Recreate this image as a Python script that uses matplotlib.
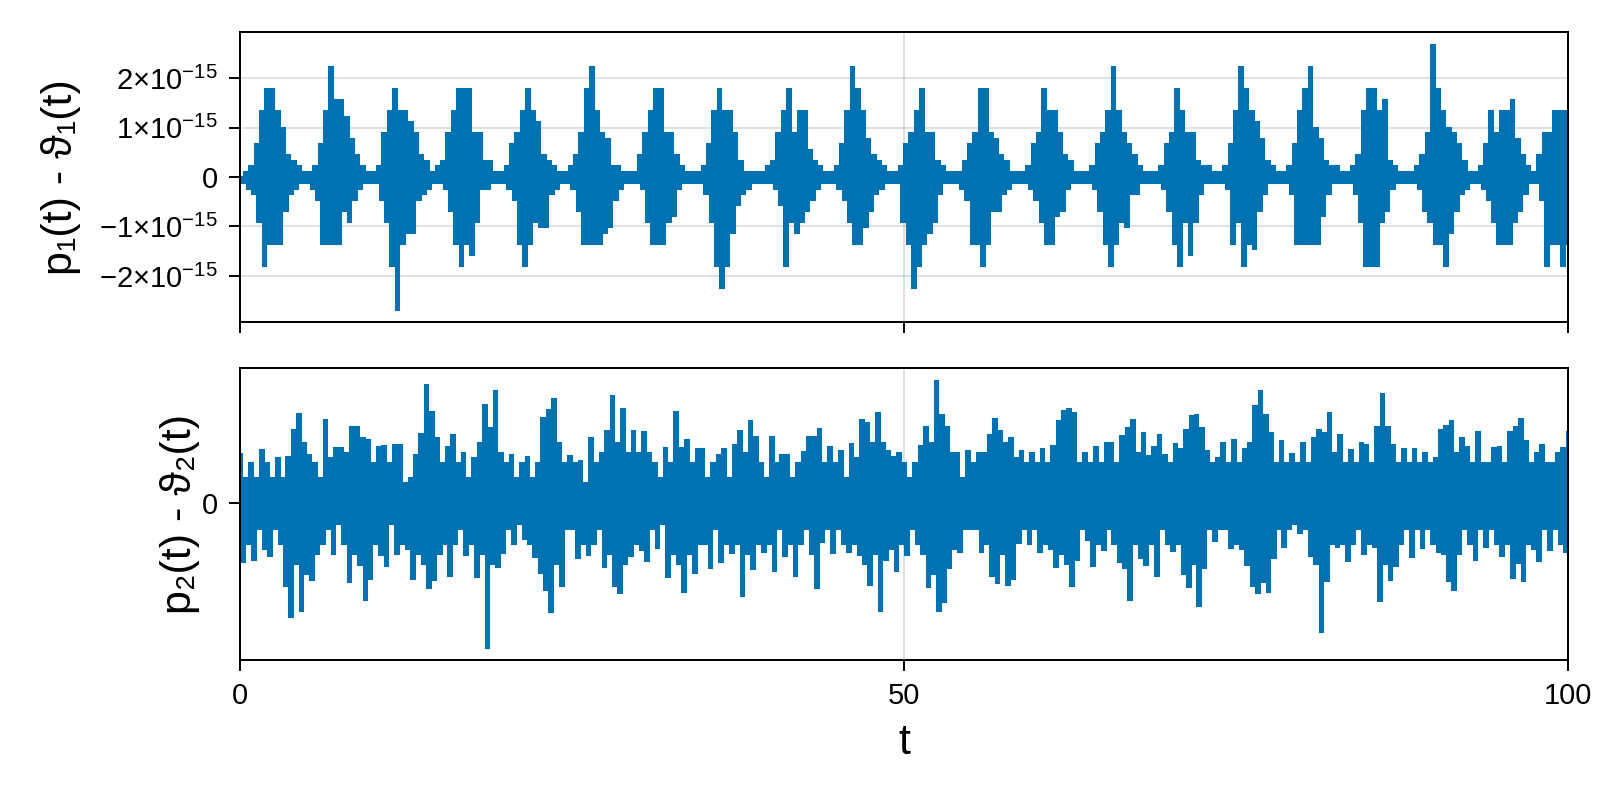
import numpy as np
import matplotlib
matplotlib.use("Agg")
import matplotlib.pyplot as plt

plt.rcParams["font.family"] = ["Liberation Sans", "DejaVu Sans"]
plt.rcParams["mathtext.fontset"] = "custom"
plt.rcParams["mathtext.rm"] = "Liberation Sans"
plt.rcParams["mathtext.it"] = "Liberation Sans:italic"
plt.rcParams["mathtext.bf"] = "Liberation Sans:bold"

# top panel values are read in units of eps/2 (~1.11e-16), one burst per line
EPS_HALF = np.finfo(float).eps / 2

p1_half_eps = [
    0, -1, 1, -2, 2, -3, 6, -8, 12, -16, 16, -12, 16, -12, 12, -12, 9, -6, 4, -3, 3, -2, 2, -1,
    1, -1, 1, -2, 2, -4, 6, -12, 12, -12, 20, -12, 14, -12, 14, -6, 11, -8, 7, -4, 4, -2, 2, -1,
    1, -1, 1, -1, 2, -4, 8, -8, 12, -16, 16, -24, 12, -12, 12, -10, 10, -10, 8, -4, 4, -3, 3, -2, 1,
    -1, 2, -1, 3, -2, 8, -6, 12, -12, 16, -16, 16, -12, 16, -14, 8, -8, 8, -2, 3, -2, 3, -1,
    1, -1, 1, -1, 2, -2, 6, -4, 8, -12, 12, -16, 16, -12, 12, -8, 10, -9, 4, -9, 3, -3, 2, -2,
    1, -1, 1, -1, 2, -2, 4, -6, 8, -12, 16, -12, 20, -12, 12, -12, 8, -10, 7, -9, 2, -4, 2, -2, 1, -1,
    1, -1, 1, -1, 4, -2, 8, -8, 12, -12, 16, -12, 16, -12, 8, -8, 8, -7, 4, -2, 2, -1, 1, -1,
    1, -1, 1, -1, 2, -3, 6, -8, 12, -16, 16, -20, 12, -16, 12, -10, 8, -5, 3, -3, 1, -2, 1, -1, 1, -1,
    1, -1, 2, -1, 3, -2, 8, -5, 12, -16, 16, -8, 8, -10, 12, -8, 12, -6, 5, -4, 3, -2, 2, -1,
    1, -1, 1, -1, 2, -2, 6, -4, 12, -8, 20, -12, 16, -12, 12, -9, 7, -6, 4, -3, 3, -2, 2, -1,
    1, -1, 1, -1, 2, -8, 6, -12, 8, -20, 12, -16, 16, -12, 8, -10, 8, -8, 3, -3, 2, -1, 1, -1,
    1, -1, 1, -2, 3, -4, 6, -12, 8, -12, 16, -16, 16, -12, 8, -6, 7, -6, 4, -3, 3, -2, 1, -1,
    1, -1, 1, -1, 2, -2, 6, -4, 8, -8, 16, -12, 12, -12, 12, -7, 8, -6, 4, -2, 3, -1, 1, -1, 1, -1,
    1, -1, 2, -2, 6, -6, 8, -12, 12, -16, 20, -12, 12, -8, 8, -9, 6, -3, 4, -3, 2, -1, 1, -1,
    1, -1, 1, -1, 2, -2, 6, -6, 8, -12, 16, -16, 12, -8, 8, -14, 8, -8, 3, -3, 2, -1, 2, -1,
    1, -1, 1, -1, 2, -2, 6, -12, 12, -8, 20, -16, 16, -12, 12, -13, 10, -6, 7, -3, 3, -1, 2, -1,
    1, -1, 1, -1, 2, -3, 6, -12, 12, -12, 16, -12, 20, -12, 9, -12, 7, -7, 3, -3, 2, -1, 2, -1,
    1, -1, 1, -1, 2, -3, 4, -8, 12, -16, 16, -16, 16, -16, 12, -8, 14, -6, 3, -2, 2, -1, 1, -1,
    1, -1, 1, -1, 2, -2, 4, -6, 8, -8, 24, -12, 16, -12, 12, -16, 9, -10, 8, -6, 6, -3, 3, -2, 1, -1,
    1, -1, 2, -2, 6, -4, 12, -8, 8, -12, 12, -12, 12, -12, 14, -8, 7, -6, 4, -3, 2, -1, 1, -1,
    4, -4, 8, -16, 8, -12, 12, -12, 12, -16, 12, -12,
]

# bottom panel values (arbitrary units, only the zero tick is labelled), 5 time units per line
p2_values = [
    4.9, -5.8, 2.5, -4, 4, -5.6, 2.5, -2.5, 5.3, -4.5, 4, -5.2, 2.5, -2.5, 4.5, -4, 2.5, -8.2, 4.6, -11.3, 7.3, -6, 8.9, -10.7, 6,
    -7, 4.8, -7.6, 4, -5, 2.5, -4, 8.3, -2.5, 4.5, -5, 5.5, -2, 5.5, -4, 5, -7.8, 7.6, -5, 7.6, -6.1, 6.5, -9.6, 6.3, -7.5,
    4, -4, 5.6, -5.1, 5.7, -6.2, 4, -2, 5.8, -5, 5.8, -4, 2, -4.5, 2.5, -7.5, 4.8, -5, 6.9, -6, 11.8, -8.4, 9.1, -7.6, 6.5,
    -5, 4, -4, 5.6, -7.2, 6.8, -4, 4, -2.5, 5, -5.1, 2.5, -4, 4.5, -7.3, 6, -5, 9.8, -14.4, 7.5, -6, 11.2, -6.3, 5, -4.9,
    4, -2.5, 4.8, -4, 2.5, -2, 4, -3.5, 4.6, -4, 2.5, -5.3, 4, -6.9, 8.5, -8.6, 9.3, -10.8, 10.4, -6, 6, -8.2, 4, -2.5, 4.7,
    -2.5, 4, -5.4, 4.2, -4, 2, -5.1, 6.5, -4, 4, -2.5, 5, -6.3, 7.2, -5, 10.7, -8.2, 6, -8.9, 9.4, -6, 5, -5.2, 7.2, -4,
    5, -4.6, 7.1, -5.7, 5, -2.5, 4, -4.4, 2.5, -2, 5.5, -7.3, 4, -5, 9.1, -6, 5.5, -8.8, 6.3, -5, 4, -6.9, 5.4, -4, 5.4,
    -4, 2.5, -6.4, 4, -2.5, 4.8, -5.8, 5.4, -4, 2.5, -4.9, 5.8, -4, 7.2, -9.2, 5, -5, 8.2, -6.5, 6.6, -4, 4, -4.8, 2.5, -4,
    6.6, -6.7, 4, -2.5, 4.8, -5.2, 4.8, -4, 2.5, -7.2, 4, -4, 5.1, -2.5, 6.6, -5, 6.6, -8.4, 7.4, -3.8, 4, -2.5, 5.6, -4.9, 4,
    -2.5, 5.2, -4, 2.5, -4.8, 5.9, -4, 4.5, -5.1, 8.3, -6, 8, -8.1, 6, -5, 9, -10.7, 6, -5.6, 5.2, -4.5, 4.6, -6.7, 5, -4,
    4, -5.1, 2.5, -2.5, 4, -4, 5.7, -5, 7.6, -8.3, 6, -7, 12.2, -10.7, 8.8, -9.8, 7.6, -6.4, 5, -4.5, 5, -4.8, 2.5, -2.5, 5.2,
    -2.5, 4, -2.5, 5, -4.8, 5, -4, 6.8, -7.2, 8.4, -7.9, 7.2, -5, 6, -8.1, 6.5, -7.5, 4.5, -3.9, 5.2, -2.5, 4, -4, 5, -2.5,
    4, -4.8, 5.4, -4, 4, -4.5, 5.7, -6.3, 8.2, -5, 9.2, -6, 9.4, -8.2, 9, -5.6, 4, -2.5, 5, -3.6, 4, -6.2, 5.6, -4, 4,
    -4.6, 6, -2.5, 6, -4, 4, -5.8, 6.7, -6.4, 7.5, -9.6, 8.3, -4, 5, -5.4, 7, -6.1, 4.7, -4, 5.6, -7.2, 6.8, -2.5, 4.8, -4,
    4, -4.7, 5.9, -4, 5.4, -7, 7.3, -8.3, 8.7, -6, 8.8, -10.2, 7.5, -6.4, 5.2, -2.5, 4, -3.7, 4.5, -2.5, 6, -2.5, 4, -4.4, 6.3,
    -4, 4, -4.5, 5.4, -6.1, 6, -8.2, 9.7, -8.9, 11.2, -7.8, 8.8, -8.8, 7, -5.4, 4, -2.5, 6.2, -4.3, 4, -2.5, 4.9, -2, 4, -2.9,
    6, -2.5, 4, -5.2, 6.5, -6, 7.3, -12.8, 7, -7.7, 9, -4, 5, -4.3, 6.8, -4, 4, -5.7, 5.3, -4, 4, -2.5, 6, -5, 5.8,
    -4, 4, -4.3, 7.6, -9.7, 10.9, -6, 7.6, -7.6, 5.8, -6.2, 4, -4, 5.4, -2.5, 4, -5.3, 5.4, -2.5, 4, -4.4, 5, -2.5, 4, -4,
    4.5, -4.8, 7.3, -5, 7.7, -7.7, 8.2, -8.6, 5, -5, 6.5, -2.5, 5.6, -4, 4, -5.6, 7.1, -2.5, 4, -4.3, 4, -2.5, 5.5, -4, 5.6,
    -5.2, 4, -4, 7.1, -7.4, 7.6, -5.9, 8.4, -7.7, 6.2, -4, 4, -4.5, 5, -5.7, 5.8, -2.5, 4, -4.6, 4, -2.5, 5, -4, 5.5, -4.8,
    7.1,
]

t_start, t_end = 0, 100
x_ticks = [0, 50, 100]
x_tick_labels = ["0", "50", "100"]
p1_ticks = [-2e-15, -1e-15, 0, 1e-15, 2e-15]
p1_tick_labels = [
    r"$\mathrm{-2{\times}10^{-15}}$",
    r"$\mathrm{-1{\times}10^{-15}}$",
    "0",
    r"$\mathrm{1{\times}10^{-15}}$",
    r"$\mathrm{2{\times}10^{-15}}$",
]
p2_ticks = [0]
p2_tick_labels = ["0"]

line_color = "#0072B2"


def style_axis(ax):
    for spine in ax.spines.values():
        spine.set_linewidth(1.44)
    ax.tick_params(direction="out", length=8, width=1.44, labelsize=21, pad=8,
                   top=False, right=False)
    ax.grid(True, color="black", alpha=0.12, linewidth=1.44)
    ax.set_axisbelow(True)
    ax.set_xlim(t_start, t_end)
    ax.set_xticks(x_ticks)


p1 = np.array(p1_half_eps, dtype=float) * EPS_HALF
p2 = np.array(p2_values, dtype=float)
t1 = np.linspace(t_start, t_end, len(p1))
t2 = np.linspace(t_start, t_end, len(p2))

fig = plt.figure(figsize=(16, 8), dpi=100)
ax1 = fig.add_axes([0.15, 0.5975, 0.83, 0.3625])
ax2 = fig.add_axes([0.15, 0.175, 0.83, 0.365])

# thick step line so neighbouring columns merge into a solid band, like the dense original
line_kw = dict(color=line_color, linewidth=2.2, drawstyle="steps-mid",
               solid_joinstyle="miter", solid_capstyle="butt")

ax1.plot(t1, p1, **line_kw)
style_axis(ax1)
ax1.set_yticks(p1_ticks)
ax1.set_yticklabels(p1_tick_labels)
ax1.tick_params(labelbottom=False)
ax1.set_ylabel("p\u2081(t) - \u03d1\u2081(t)", fontsize=31)
ax1.yaxis.set_label_coords(-0.12, 0.5)

ax2.plot(t2, p2, **line_kw)
style_axis(ax2)
ax2.set_yticks(p2_ticks)
ax2.set_yticklabels(p2_tick_labels)
ax2.set_xticklabels(x_tick_labels)
ax2.set_ylabel("p\u2082(t) - \u03d1\u2082(t)", fontsize=31)
ax2.yaxis.set_label_coords(-0.03, 0.5)
ax2.set_xlabel("t", fontsize=31)
ax2.xaxis.set_label_coords(0.5, -0.216)

fig.savefig("out.png", dpi=100)
